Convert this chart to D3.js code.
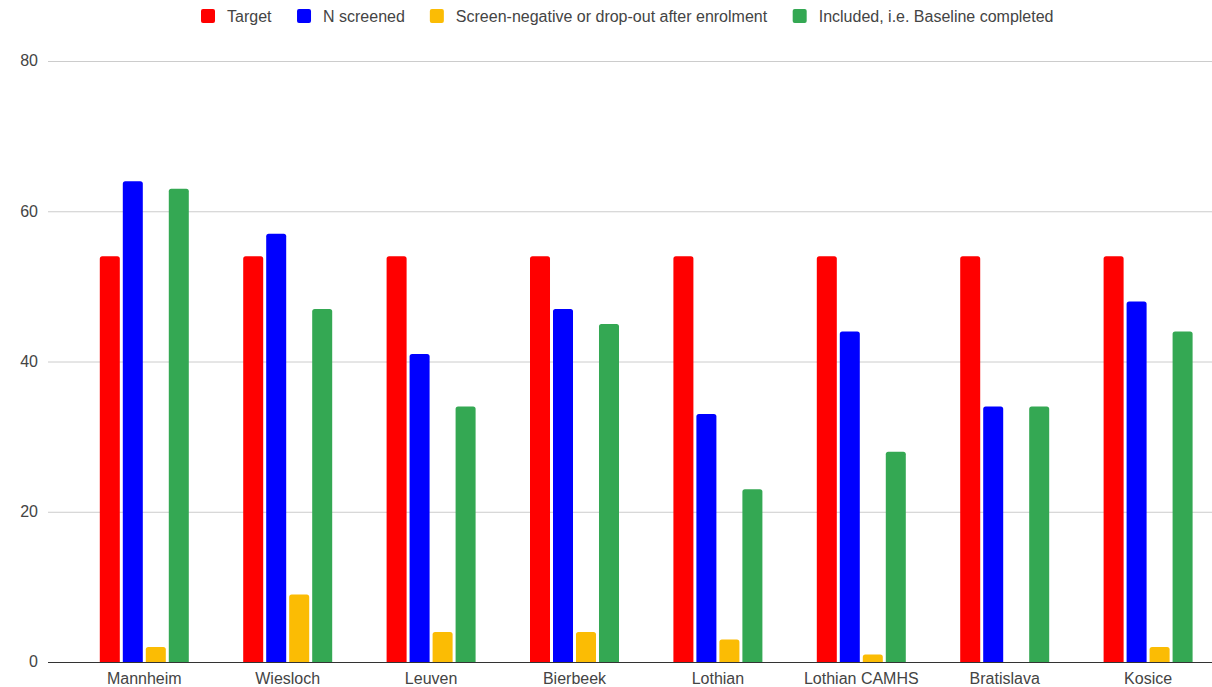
<!DOCTYPE html>
<html>
<head>
<meta charset="utf-8">
<script src="https://cdn.jsdelivr.net/npm/d3@7"></script>
<style>
html,body{margin:0;padding:0;background:#fff;}
svg{display:block;font-family:"Liberation Sans",Arial,sans-serif;}
</style>
</head>
<body>
<svg id="chart" width="1212" height="687"></svg>
<script>
const categories = ["Mannheim","Wiesloch","Leuven","Bierbeek","Lothian","Lothian CAMHS","Bratislava","Kosice"];
const seriesNames = ["Target","N screened","Screen-negative or drop-out after enrolment","Included, i.e. Baseline completed"];
const seriesColors = ["#ff0000","#0000ff","#fbbc04","#34a853"];
const target = [54,54,54,54,54,54,54,54];
const nScreened = [64,57,41,47,33,44,34,48];
const screenNegative = [2,9,4,4,3,1,0,2];
const included = [63,47,34,45,23,28,34,44];
const yTicks = [0,20,40,60,80];

const seriesValues = [target, nScreened, screenNegative, included];

const svg = d3.select("#chart");
const W = 1212, H = 687;
const plotLeft = 48, plotRight = 1212, plotTop = 61, plotBottom = 662;

const y = d3.scaleLinear().domain([0,80]).range([plotBottom, plotTop]);
const x0 = d3.scaleBand().domain(categories).range([72.6, 1219.8]);
const x1 = d3.scaleBand().domain(seriesNames).range([-44.5, 44.5]).paddingInner(0.13).paddingOuter(0);

// gridlines
svg.append("g").selectAll("line").data(yTicks.filter(t => t !== 0)).join("line")
  .attr("x1", plotLeft).attr("x2", plotRight)
  .attr("y1", d => y(d) + 0.5).attr("y2", d => y(d) + 0.5)
  .attr("stroke", "#cccccc").attr("stroke-width", 1);

// y tick labels
svg.append("g").selectAll("text").data(yTicks).join("text")
  .attr("x", 38).attr("y", d => y(d)).attr("dy", "0.34em")
  .attr("text-anchor", "end").attr("font-size", 16).attr("fill", "#444")
  .text(d => d);

// bars
function topRoundedRect(x, yTop, w, h, r) {
  if (h <= 0) return "";
  r = Math.min(r, h, w / 2);
  return `M${x},${yTop + h}V${yTop + r}Q${x},${yTop} ${x + r},${yTop}H${x + w - r}Q${x + w},${yTop} ${x + w},${yTop + r}V${yTop + h}Z`;
}

const groups = svg.append("g").selectAll("g").data(categories).join("g")
  .attr("transform", d => `translate(${x0(d) + x0.bandwidth() / 2},0)`);

groups.selectAll("path").data((c, i) => seriesNames.map((s, j) => ({ s, j, v: seriesValues[j][i] }))).join("path")
  .attr("d", d => topRoundedRect(x1(d.s), y(d.v), x1.bandwidth(), y(0) - y(d.v), 2.5))
  .attr("fill", d => seriesColors[d.j]);

// baseline
svg.append("line").attr("x1", plotLeft).attr("x2", plotRight)
  .attr("y1", y(0) + 0.5).attr("y2", y(0) + 0.5)
  .attr("stroke", "#333333").attr("stroke-width", 1);

// x labels
svg.append("g").selectAll("text").data(categories).join("text")
  .attr("x", d => x0(d) + x0.bandwidth() / 2).attr("y", 684)
  .attr("text-anchor", "middle").attr("font-size", 16).attr("fill", "#444")
  .text(d => d);

// legend
const legend = svg.append("g");
const items = legend.selectAll("g").data(seriesNames).join("g");
items.append("rect").attr("width", 14).attr("height", 14).attr("rx", 2).attr("y", 9)
  .attr("fill", (d, i) => seriesColors[i]);
items.append("text").attr("x", 26).attr("y", 16).attr("dy", "0.35em")
  .attr("font-size", 16).attr("fill", "#444").text(d => d);
let widths = [];
items.each(function () { widths.push(this.getBBox().width); });
const gapBetween = 25;
let cx = 201;
items.attr("transform", (d, i) => { const t = `translate(${cx},0)`; cx += widths[i] + gapBetween; return t; });
</script>
</body>
</html>
